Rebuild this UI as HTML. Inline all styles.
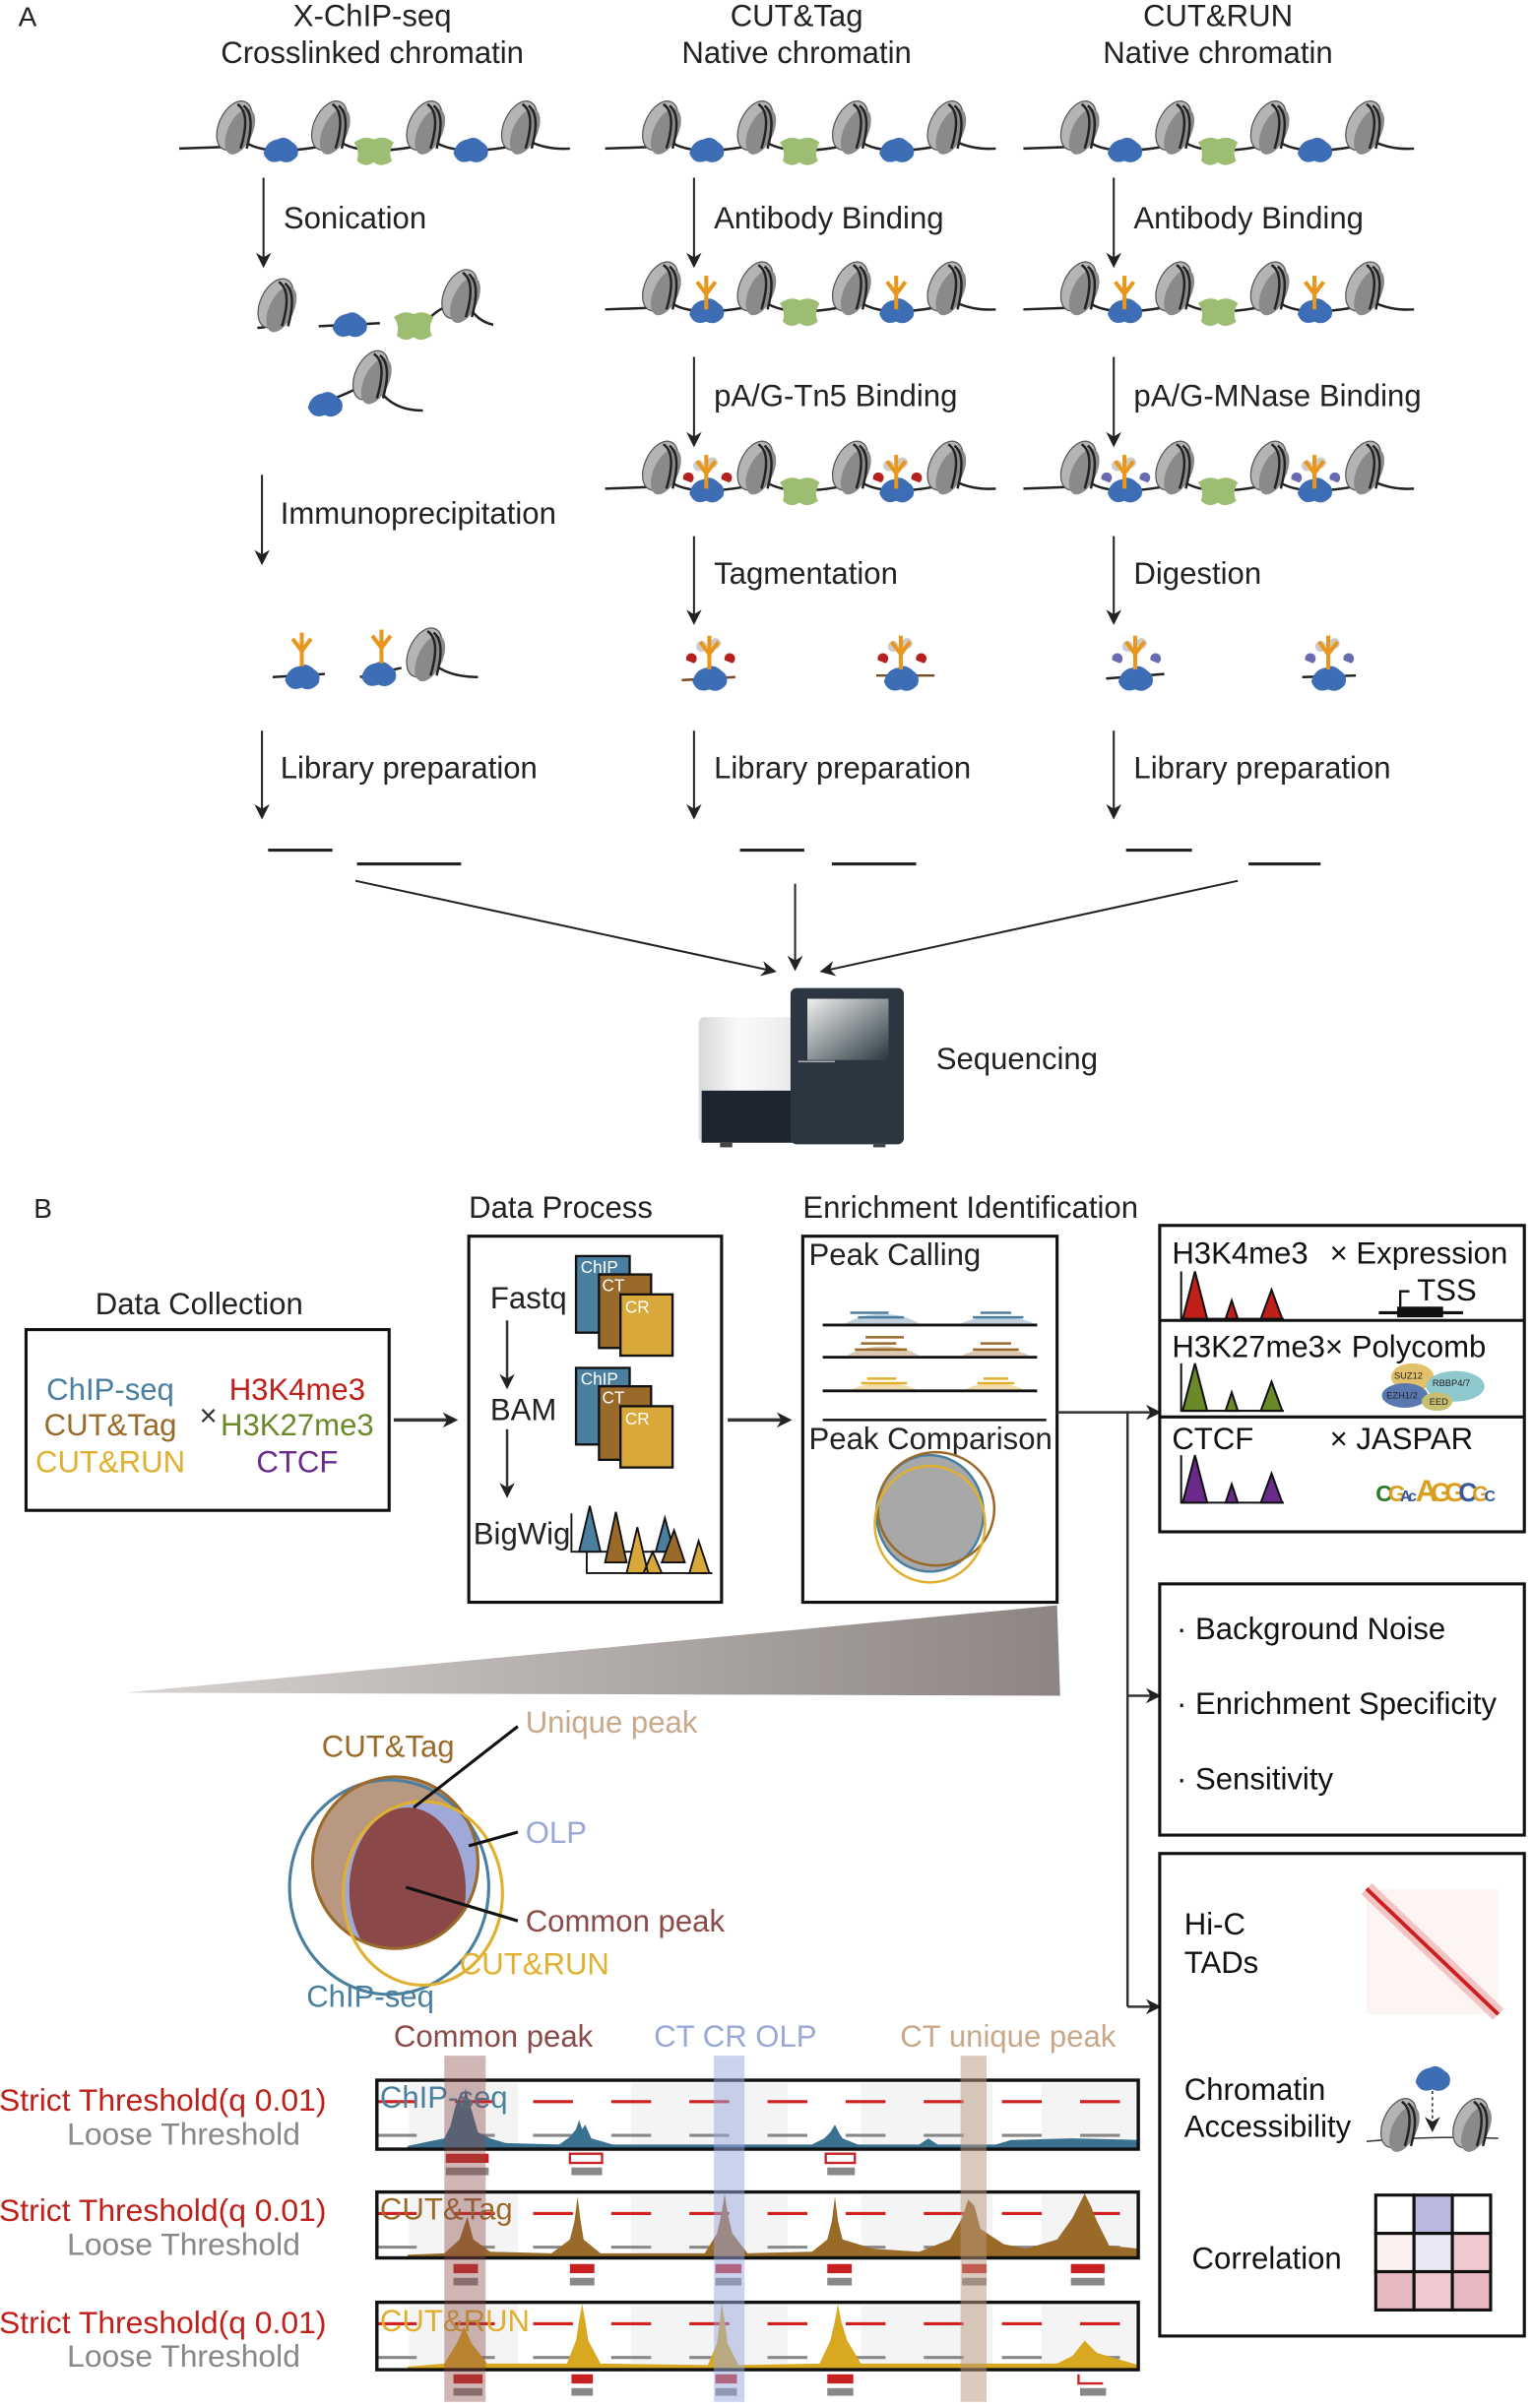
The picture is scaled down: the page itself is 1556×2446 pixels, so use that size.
<!DOCTYPE html>
<html><head><meta charset="utf-8"><style>
html,body{margin:0;padding:0;background:#fff;}
svg{display:block;font-family:"Liberation Sans",Arial,sans-serif;}
</style></head><body>
<svg width="1556" height="2446" viewBox="0 0 1000 1572" xmlns="http://www.w3.org/2000/svg">
<defs>
<marker id="ah" markerWidth="10" markerHeight="10" refX="8" refY="5" orient="auto" markerUnits="userSpaceOnUse"><path d="M0,0 L10,5 L0,10 L3,5 Z" fill="#222"/></marker>
<g id="nuc"><ellipse cx="0" cy="0" rx="10" ry="17" transform="rotate(25)" fill="#b4b4b4" stroke="#555" stroke-width="0.8"/><ellipse cx="5" cy="2" rx="8" ry="16" transform="rotate(25)" fill="#8a8a8a"/><path d="M2,-14 Q11,-8 4,15 M6,-13 Q14,-7 8,15" stroke="#222" stroke-width="1.6" fill="none"/></g>
<path id="blob" d="M-11,2 Q-9,-6 -2,-7 Q3,-10 8,-5 Q13,-2 11,4 Q6,10 0,7 Q-8,10 -11,2 Z" fill="#3d6db5"/>
<path id="gblob" d="M-13,-5 Q-6,-10 0,-7 Q7,-10 13,-5 Q9,2 12,7 Q5,12 0,8 Q-6,12 -11,7 Q-9,0 -13,-5 Z" fill="#9dbd72"/>
<g id="ab"><path d="M0,0 L0,-10 M0,-10 L-6,-18 M0,-10 L6,-18 M0,-10 L0,-22" stroke="#e8961c" stroke-width="2.6" fill="none"/></g>
<g id="tn5"><circle cx="-5" cy="-15" r="3.5" fill="#ccc"/><circle cx="4" cy="-17" r="3.5" fill="#ccc"/><path d="M-15,-6 a3.5,3.5 0 1,1 5,2" fill="#b52020"/><path d="M10,-6 a3.5,3.5 0 1,1 5,2" fill="#b52020"/></g>
<g id="mn"><circle cx="-5" cy="-15" r="3.5" fill="#ccc"/><circle cx="4" cy="-17" r="3.5" fill="#ccc"/><path d="M-15,-6 a3.5,3.5 0 1,1 5,2" fill="#6a6ab0"/><path d="M10,-6 a3.5,3.5 0 1,1 5,2" fill="#6a6ab0"/></g>
<g id="chrom"><path d="M0,97 L28,96 Q34,95 38,92 M42,92 Q55,102 90,96 L96,94 M104,92 Q118,102 152,96 L158,94 M166,92 Q180,102 214,96 L220,94 M228,92 Q240,98 255,97" stroke="#222" stroke-width="1.6" fill="none"/>
<use href="#nuc" x="36" y="82"/><use href="#nuc" x="98" y="82"/><use href="#nuc" x="160" y="82"/><use href="#nuc" x="222" y="82"/>
<use href="#blob" x="66" y="98"/><use href="#gblob" x="127" y="98"/><use href="#blob" x="190" y="98"/></g>
<linearGradient id="wedge" x1="0" x2="1" y1="0" y2="0"><stop offset="0" stop-color="#d8d4d2"/><stop offset="1" stop-color="#8c8582"/></linearGradient>
<clipPath id="ctc"><ellipse cx="258" cy="1216" rx="54" ry="56"/></clipPath>
</defs>

<!-- PANEL A -->
<g font-size="20" fill="#222">
<text x="12" y="17" font-size="18">A</text>
<text x="243" y="17" text-anchor="middle">X-ChIP-seq</text>
<text x="243" y="41" text-anchor="middle">Crosslinked chromatin</text>
<text x="520" y="17" text-anchor="middle">CUT&amp;Tag</text>
<text x="520" y="41" text-anchor="middle">Native chromatin</text>
<text x="795" y="17" text-anchor="middle">CUT&amp;RUN</text>
<text x="795" y="41" text-anchor="middle">Native chromatin</text>
</g>
<use href="#chrom" x="117" y="0"/>
<use href="#chrom" x="395" y="0"/>
<use href="#chrom" x="668" y="0"/>
<use href="#chrom" x="395" y="105"/><use href="#ab" x="461" y="202"/><use href="#ab" x="585" y="202"/>
<use href="#chrom" x="668" y="105"/><use href="#ab" x="734" y="202"/><use href="#ab" x="858" y="202"/>
<use href="#chrom" x="395" y="222"/><use href="#tn5" x="461" y="319"/><use href="#ab" x="461" y="319"/><use href="#tn5" x="585" y="319"/><use href="#ab" x="585" y="319"/>
<use href="#chrom" x="668" y="222"/><use href="#mn" x="734" y="319"/><use href="#ab" x="734" y="319"/><use href="#mn" x="858" y="319"/><use href="#ab" x="858" y="319"/>
<g stroke="#222" stroke-width="1.6" fill="none"><path d="M168,214 Q175,214 180,210"/><path d="M208,213 L248,211"/><path d="M280,208 Q290,198 298,200 M306,200 Q312,210 322,212"/><path d="M205,265 Q225,258 236,252 M246,252 Q255,268 276,268"/></g>
<use href="#nuc" x="180" y="198"/><use href="#blob" x="228" y="212"/><use href="#gblob" x="270" y="212"/><use href="#nuc" x="300" y="192"/><use href="#blob" x="212" y="264"/><use href="#nuc" x="242" y="245"/>
<g stroke="#222" stroke-width="1.6" fill="none"><path d="M178,442 L212,440"/><path d="M235,442 L262,436 M278,428 Q288,442 312,442"/></g>
<use href="#blob" x="197" y="442"/><use href="#ab" x="197" y="435"/><use href="#blob" x="247" y="440"/><use href="#ab" x="249" y="433"/><use href="#nuc" x="277" y="426"/>
<g stroke="#7a4a20" stroke-width="1.6"><path d="M445,444 L480,442 M572,441 L610,441"/><path d="M722,443 L760,440 M850,442 L885,441" stroke="#222"/></g>
<use href="#blob" x="463" y="443"/><use href="#tn5" x="463" y="437"/><use href="#ab" x="463" y="437"/>
<use href="#blob" x="588" y="443"/><use href="#tn5" x="588" y="437"/><use href="#ab" x="588" y="437"/>
<use href="#blob" x="741" y="443"/><use href="#mn" x="741" y="437"/><use href="#ab" x="741" y="437"/>
<use href="#blob" x="867" y="443"/><use href="#mn" x="867" y="437"/><use href="#ab" x="867" y="437"/>

<g stroke="#222" stroke-width="1.3" marker-end="url(#ah)">
<line x1="172" y1="116" x2="172" y2="173"/><line x1="453" y1="116" x2="453" y2="173"/><line x1="727" y1="116" x2="727" y2="173"/>
<line x1="453" y1="233" x2="453" y2="290"/><line x1="727" y1="233" x2="727" y2="290"/>
<line x1="171" y1="310" x2="171" y2="367"/>
<line x1="453" y1="350" x2="453" y2="406"/><line x1="727" y1="350" x2="727" y2="406"/>
<line x1="171" y1="477" x2="171" y2="533"/><line x1="453" y1="477" x2="453" y2="533"/><line x1="727" y1="477" x2="727" y2="533"/>
<line x1="232" y1="575" x2="505" y2="634"/><line x1="519" y1="577" x2="519" y2="632"/><line x1="808" y1="575" x2="537" y2="634"/>
</g>
<g font-size="20" fill="#222">
<text x="185" y="149">Sonication</text><text x="466" y="149">Antibody Binding</text><text x="740" y="149">Antibody Binding</text>
<text x="466" y="265">pA/G-Tn5 Binding</text><text x="740" y="265">pA/G-MNase Binding</text>
<text x="183" y="342">Immunoprecipitation</text>
<text x="466" y="381">Tagmentation</text><text x="740" y="381">Digestion</text>
<text x="183" y="508">Library preparation</text><text x="466" y="508">Library preparation</text><text x="740" y="508">Library preparation</text>
<text x="611" y="698">Sequencing</text>
</g>
<g stroke="#222" stroke-width="2"><line x1="175" y1="555" x2="217" y2="555"/><line x1="233" y1="564" x2="301" y2="564"/><line x1="483" y1="555" x2="525" y2="555"/><line x1="543" y1="564" x2="598" y2="564"/><line x1="735" y1="555" x2="778" y2="555"/><line x1="815" y1="564" x2="862" y2="564"/></g>
<linearGradient id="wg" x1="0" x2="1"><stop offset="0" stop-color="#d8d8d8"/><stop offset="0.4" stop-color="#fafafa"/><stop offset="1" stop-color="#e8e8e8"/></linearGradient>
<linearGradient id="scr" x1="0" x2="1" y1="0" y2="1"><stop offset="0" stop-color="#f0f0f0"/><stop offset="1" stop-color="#2a3a40"/></linearGradient>
<rect x="456" y="664" width="66" height="82" rx="4" fill="url(#wg)"/>
<rect x="458" y="712" width="62" height="34" fill="#1c2530"/>
<rect x="516" y="645" width="74" height="102" rx="4" fill="#2b3640"/>
<rect x="527" y="652" width="53" height="40" fill="url(#scr)"/>
<line x1="521" y1="693" x2="545" y2="693" stroke="#aaa"/>
<rect x="470" y="746" width="8" height="3" fill="#444"/><rect x="570" y="746" width="8" height="3" fill="#444"/>

<!-- PANEL B -->
<g font-size="20" fill="#222">
<text x="22" y="795" font-size="18">B</text>
<text x="306" y="795">Data Process</text>
<text x="524" y="795">Enrichment Identification</text>
<text x="130" y="858" text-anchor="middle">Data Collection</text>
</g>
<rect x="17" y="868" width="237" height="118" fill="none" stroke="#111" stroke-width="2"/>
<g font-size="20" text-anchor="middle">
<text x="72" y="914" fill="#4a7fa0">ChIP-seq</text><text x="72" y="937" fill="#9a6a2a">CUT&amp;Tag</text><text x="72" y="961" fill="#e0b030">CUT&amp;RUN</text>
<text x="136" y="931" fill="#333">×</text>
<text x="194" y="914" fill="#c0201a">H3K4me3</text><text x="194" y="937" fill="#6a8a2a">H3K27me3</text><text x="194" y="961" fill="#6a2a8a">CTCF</text>
</g>
<g stroke="#333" stroke-width="2.2" marker-end="url(#ah)"><line x1="257" y1="927" x2="297" y2="927"/><line x1="475" y1="927" x2="515" y2="927"/></g>
<rect x="306" y="807" width="165" height="239" fill="none" stroke="#111" stroke-width="2"/>
<g font-size="20" fill="#222"><text x="320" y="854">Fastq</text><text x="320" y="927">BAM</text><text x="309" y="1008">BigWig</text></g>
<g stroke="#333" stroke-width="1.6" marker-end="url(#ah)"><line x1="331" y1="862" x2="331" y2="905"/><line x1="331" y1="933" x2="331" y2="976"/></g>
<g stroke="#111" stroke-width="1.5">
<rect x="376" y="820" width="35" height="50" fill="#4a7fa0"/><rect x="391" y="832" width="34" height="48" fill="#9a6a2a"/><rect x="405" y="845" width="34" height="40" fill="#d8a83a"/>
<rect x="376" y="893" width="35" height="50" fill="#4a7fa0"/><rect x="391" y="905" width="34" height="48" fill="#9a6a2a"/><rect x="405" y="918" width="34" height="40" fill="#d8a83a"/>
</g>
<g font-size="11" fill="#fff"><text x="379" y="831">ChIP</text><text x="393" y="843">CT</text><text x="408" y="857">CR</text><text x="379" y="904">ChIP</text><text x="393" y="916">CT</text><text x="408" y="930">CR</text></g>
<g stroke="#111" stroke-width="1.2">
<path d="M373,988 L373,1013 L440,1013" fill="none"/><path d="M383,1003 L383,1027 L465,1027" fill="none"/>
<path d="M378,1013 L385,983 L392,1013 Z M428,1013 L434,991 L440,1013 Z" fill="#4a7fa0"/>
<path d="M395,1020 L402,987 L409,1020 Z M432,1020 L440,999 L447,1020 Z" fill="#9a6a2a"/>
<path d="M409,1027 L416,997 L423,1027 Z M450,1027 L456,1006 L463,1027 Z M420,1027 L426,1013 L432,1027Z" fill="#d8a83a"/>
</g>
<rect x="524" y="807" width="166" height="239" fill="none" stroke="#111" stroke-width="2"/>
<g font-size="20" fill="#222"><text x="528" y="826">Peak Calling</text><text x="528" y="946">Peak Comparison</text></g>
<line x1="537" y1="927" x2="683" y2="927" stroke="#111" stroke-width="1.6"/>
<g>
<path d="M552,864 A32,18 0 0 1 600,864 Z" fill="#c0d0dc"/><path d="M627,864 A30,11 0 0 1 675,864 Z" fill="#c0d0dc"/>
<path d="M553,885 A30,16 0 0 1 600,885 Z" fill="#dcc8b0"/><path d="M628,885 A28,12 0 0 1 672,885 Z" fill="#dcc8b0"/>
<path d="M556,907 A28,12 0 0 1 598,907 Z" fill="#f0dca8"/><path d="M630,907 A24,10 0 0 1 668,907 Z" fill="#f0dca8"/>
<g stroke="#4a7fa0" stroke-width="1.6"><line x1="560" y1="860" x2="590" y2="860"/><line x1="555" y1="857" x2="580" y2="857"/><line x1="635" y1="860" x2="668" y2="860"/><line x1="640" y1="857" x2="660" y2="857"/></g>
<g stroke="#9a6a2a" stroke-width="1.6"><line x1="558" y1="881" x2="592" y2="881"/><line x1="562" y1="877" x2="585" y2="877"/><line x1="565" y1="873" x2="590" y2="873"/><line x1="635" y1="881" x2="665" y2="881"/><line x1="640" y1="877" x2="660" y2="877"/></g>
<g stroke="#e0b030" stroke-width="1.6"><line x1="562" y1="903" x2="592" y2="903"/><line x1="566" y1="900" x2="585" y2="900"/><line x1="638" y1="903" x2="662" y2="903"/><line x1="642" y1="900" x2="658" y2="900"/></g>
<g stroke="#111" stroke-width="1.8"><line x1="537" y1="865" x2="677" y2="865"/><line x1="537" y1="886" x2="677" y2="886"/><line x1="537" y1="908" x2="677" y2="908"/></g>
</g>
<ellipse cx="607" cy="988" rx="35" ry="38" fill="#a8a8a8" stroke="#4a7fa0" stroke-width="1.6"/>
<ellipse cx="611" cy="985" rx="38" ry="37" fill="none" stroke="#9a6a2a" stroke-width="1.6"/>
<ellipse cx="607" cy="995" rx="36" ry="38" fill="none" stroke="#e0b030" stroke-width="1.6"/>
<path d="M82,1105 L690,1048 L692,1107 Z" fill="url(#wedge)"/>
<g stroke="#333" stroke-width="1.6" fill="none"><path d="M690,922 L736,922 L736,1310"/></g>
<g stroke="#333" stroke-width="1.6" marker-end="url(#ah)"><line x1="736" y1="922" x2="756" y2="922"/><line x1="736" y1="1107" x2="756" y2="1107"/><line x1="736" y1="1310" x2="756" y2="1310"/></g>
<rect x="757" y="800" width="238" height="200" fill="none" stroke="#111" stroke-width="2"/>
<line x1="757" y1="862" x2="995" y2="862" stroke="#111" stroke-width="2"/><line x1="757" y1="925" x2="995" y2="925" stroke="#111" stroke-width="2"/>
<g font-size="20" fill="#111">
<text x="765" y="825">H3K4me3</text><text x="868" y="825">× Expression</text><text x="925" y="849">TSS</text>
<text x="765" y="886">H3K27me3</text><text x="865" y="886">× Polycomb</text>
<text x="765" y="946">CTCF</text><text x="868" y="946">× JASPAR</text>
</g>
<g stroke="#111" stroke-width="1.3">
<path d="M771,830 L771,861 L838,861" fill="none"/><path d="M772,861 L780,830 L788,861Z M800,861 L804,849 L808,861Z M823,861 L830,842 L837,861Z" fill="#c0201a"/>
<path d="M771,890 L771,921 L838,921" fill="none"/><path d="M772,921 L780,890 L788,921Z M800,921 L804,909 L808,921Z M823,921 L830,902 L837,921Z" fill="#6a8a2a"/>
<path d="M771,950 L771,981 L838,981" fill="none"/><path d="M772,981 L780,950 L788,981Z M800,981 L804,969 L808,981Z M823,981 L830,962 L837,981Z" fill="#6a2a8a"/>
</g>
<g><line x1="900" y1="857" x2="955" y2="857" stroke="#111" stroke-width="2"/><rect x="912" y="853" width="30" height="7" fill="#111"/><path d="M914,853 L914,843 L920,843" stroke="#111" fill="none" stroke-width="1.5"/></g>
<ellipse cx="922" cy="899" rx="14" ry="9" fill="#e3c06a"/><ellipse cx="950" cy="905" rx="19" ry="10" fill="#8ec8cc"/><ellipse cx="917" cy="911" rx="15" ry="8" fill="#5a78b0"/><ellipse cx="938" cy="915" rx="10" ry="6" fill="#c8c070"/>
<g font-size="6" fill="#222"><text x="910" y="900">SUZ12</text><text x="935" y="905">RBBP4/7</text><text x="905" y="913">EZH1/2</text><text x="933" y="917">EED</text></g>
<g font-weight="bold" letter-spacing="-2"><text x="898" y="980" fill="#2a7a2a" font-size="15">C</text><text x="906" y="980" fill="#d8a020" font-size="15">G</text><text x="914" y="980" fill="#3a5aa0" font-size="10">Ac</text><text x="924" y="980" fill="#d8a020" font-size="20">A</text><text x="934" y="980" fill="#d8a020" font-size="17">G</text><text x="943" y="980" fill="#d8a020" font-size="17">G</text><text x="952" y="980" fill="#3a5aa0" font-size="17">C</text><text x="961" y="980" fill="#d8a020" font-size="14">G</text><text x="969" y="980" fill="#3a5aa0" font-size="10">C</text></g>
<rect x="757" y="1034" width="238" height="164" fill="none" stroke="#111" stroke-width="2"/>
<g font-size="20" fill="#111"><text x="768" y="1070">· Background Noise</text><text x="768" y="1119">· Enrichment Specificity</text><text x="768" y="1168">· Sensitivity</text></g>
<rect x="757" y="1210" width="238" height="315" fill="none" stroke="#111" stroke-width="2"/>
<g font-size="20" fill="#111"><text x="773" y="1263">Hi-C</text><text x="773" y="1288">TADs</text><text x="773" y="1371">Chromatin</text><text x="773" y="1395">Accessibility</text><text x="778" y="1481">Correlation</text></g>
<rect x="892" y="1233" width="86" height="82" fill="#fdf4f4"/>
<path d="M892,1233 L978,1315" stroke="#f4c4c4" stroke-width="10"/><path d="M892,1233 L978,1315" stroke="#cc2020" stroke-width="2.5"/>
<use href="#blob" x="935" y="1357"/>
<line x1="935" y1="1365" x2="935" y2="1390" stroke="#333" stroke-dasharray="2,2" marker-end="url(#ah)"/>
<path d="M892,1398 Q935,1394 978,1396" stroke="#333" fill="none"/>
<use href="#nuc" x="913" y="1386"/><use href="#nuc" x="960" y="1386"/>
<g stroke="#111" stroke-width="2">
<rect x="898" y="1433" width="25" height="25" fill="#fff"/><rect x="923" y="1433" width="25" height="25" fill="#b8b8e0"/><rect x="948" y="1433" width="25" height="25" fill="#fff"/>
<rect x="898" y="1458" width="25" height="25" fill="#faf0f0"/><rect x="923" y="1458" width="25" height="25" fill="#e8e8f5"/><rect x="948" y="1458" width="25" height="25" fill="#f0c8d0"/>
<rect x="898" y="1483" width="25" height="25" fill="#e8b8c0"/><rect x="923" y="1483" width="25" height="25" fill="#f0c8d0"/><rect x="948" y="1483" width="25" height="25" fill="#e8b8c0"/>
</g>
<ellipse cx="258" cy="1216" rx="54" ry="56" fill="#b89880"/>
<ellipse cx="276" cy="1236" rx="52" ry="60" fill="#a0a8d8" clip-path="url(#ctc)"/>
<ellipse cx="266" cy="1234" rx="38" ry="54" fill="#8a4848" clip-path="url(#ctc)"/>
<ellipse cx="254" cy="1232" rx="65" ry="70" fill="none" stroke="#4a7fa0" stroke-width="2"/>
<ellipse cx="258" cy="1216" rx="54" ry="56" fill="none" stroke="#9a6a2a" stroke-width="2"/>
<ellipse cx="276" cy="1236" rx="52" ry="60" fill="none" stroke="#e0b030" stroke-width="2"/>
<g stroke="#111" stroke-width="2"><line x1="270" y1="1180" x2="338" y2="1127"/><line x1="306" y1="1205" x2="338" y2="1196"/><line x1="265" y1="1232" x2="338" y2="1254"/></g>
<g font-size="20">
<text x="210" y="1147" fill="#9a6a2a">CUT&amp;Tag</text><text x="343" y="1131" fill="#c8a888">Unique peak</text><text x="343" y="1203" fill="#9aa8d8">OLP</text><text x="343" y="1261" fill="#8a4a48">Common peak</text><text x="300" y="1289" fill="#e0b030">CUT&amp;RUN</text><text x="200" y="1310" fill="#4a7fa0">ChIP-seq</text>
<text x="322" y="1336" fill="#8a4a48" text-anchor="middle">Common peak</text><text x="480" y="1336" fill="#9aa8d8" text-anchor="middle">CT CR OLP</text><text x="658" y="1336" fill="#c8a888" text-anchor="middle">CT unique peak</text>
</g>
<g font-size="20.5" text-anchor="end">
<text x="213" y="1378" fill="#c0201a">Strict Threshold(q 0.01)</text><text x="196" y="1400" fill="#888">Loose Threshold</text>
<text x="213" y="1450" fill="#c0201a">Strict Threshold(q 0.01)</text><text x="196" y="1472" fill="#888">Loose Threshold</text>
<text x="213" y="1523" fill="#c0201a">Strict Threshold(q 0.01)</text><text x="196" y="1545" fill="#888">Loose Threshold</text>
</g>
<g fill="#f4f4f4">
<rect x="267" y="1360" width="71" height="42"/><rect x="412" y="1360" width="102" height="42"/><rect x="562" y="1360" width="86" height="42"/><rect x="680" y="1360" width="62" height="42"/>
<rect x="267" y="1433" width="71" height="40"/><rect x="412" y="1433" width="102" height="40"/><rect x="562" y="1433" width="86" height="40"/><rect x="680" y="1433" width="62" height="40"/>
<rect x="267" y="1505" width="71" height="41"/><rect x="412" y="1505" width="102" height="41"/><rect x="562" y="1505" width="86" height="41"/><rect x="680" y="1505" width="62" height="41"/>
</g>
<g stroke-width="2" stroke-dasharray="26,25">
<line x1="246" y1="1372" x2="743" y2="1372" stroke="#d02020"/><line x1="246" y1="1394" x2="743" y2="1394" stroke="#888"/>
<line x1="246" y1="1445" x2="743" y2="1445" stroke="#d02020"/><line x1="246" y1="1467" x2="743" y2="1467" stroke="#888"/>
<line x1="246" y1="1517" x2="743" y2="1517" stroke="#d02020"/><line x1="246" y1="1539" x2="743" y2="1539" stroke="#888"/>
</g>
<path fill="#3a7090" d="M266,1401 L280,1398 L290,1396 L294,1388 L297,1376 L300,1368 L302,1374 L304,1363 L306,1372 L308,1378 L312,1392 L320,1396 L330,1399 L365,1400 L372,1395 L376,1390 L378,1384 L380,1390 L382,1387 L386,1396 L400,1400 L530,1400 L538,1396 L542,1392 L545,1387 L548,1393 L550,1396 L560,1400 L600,1400 L606,1396 L612,1400 L650,1400 L660,1397 L700,1396 L743,1397 L743,1402 L266,1402 Z"/>
<path fill="#9a6a28" d="M266,1472 L290,1471 L300,1462 L305,1447 L309,1462 L320,1470 L360,1471 L372,1462 L375,1450 L377,1434 L379,1450 L381,1462 L392,1471 L460,1471 L468,1458 L471,1445 L473,1432 L475,1445 L478,1458 L488,1471 L530,1470 L540,1462 L543,1450 L545,1434 L547,1450 L550,1462 L570,1468 L600,1470 L620,1462 L628,1448 L632,1436 L636,1440 L640,1455 L655,1465 L670,1468 L690,1462 L700,1448 L706,1436 L708,1432 L712,1440 L716,1450 L724,1466 L743,1468 L743,1474 L266,1474 Z"/>
<path fill="#d8a820" d="M266,1545 L290,1543 L298,1530 L303,1519 L308,1530 L318,1543 L370,1543 L376,1528 L378,1515 L380,1504 L382,1515 L384,1528 L392,1543 L462,1544 L468,1530 L470,1515 L471,1503 L473,1515 L475,1530 L482,1544 L535,1543 L542,1528 L545,1515 L547,1504 L549,1515 L553,1528 L562,1543 L690,1543 L700,1538 L708,1528 L716,1536 L743,1544 L743,1547 L266,1547 Z"/>
<g fill="none" stroke="#111" stroke-width="2.2">
<rect x="246" y="1358" width="497" height="45"/><rect x="246" y="1431" width="497" height="43"/><rect x="246" y="1503" width="497" height="44"/>
</g>
<g font-size="20"><text x="248" y="1376" fill="#4a7fa0">ChIP-seq</text><text x="248" y="1449" fill="#9a6a2a">CUT&amp;Tag</text><text x="248" y="1522" fill="#e0b030">CUT&amp;RUN</text></g>
<g fill="#c82020">
<rect x="291" y="1406" width="28" height="6"/><rect x="296" y="1478" width="16" height="6"/><rect x="372" y="1478" width="16" height="6"/><rect x="467" y="1478" width="17" height="6"/><rect x="540" y="1478" width="16" height="6"/><rect x="628" y="1478" width="16" height="6"/><rect x="699" y="1478" width="22" height="6"/>
<rect x="296" y="1550" width="19" height="6"/><rect x="373" y="1550" width="14" height="6"/><rect x="467" y="1550" width="14" height="6"/><rect x="540" y="1550" width="17" height="6"/>
</g>
<g fill="none" stroke="#c82020" stroke-width="1.5"><rect x="372" y="1406" width="21" height="6"/><rect x="539" y="1406" width="19" height="6"/><path d="M704,1550 L704,1556 L720,1556"/></g>
<g fill="#888">
<rect x="291" y="1415" width="28" height="5"/><rect x="373" y="1415" width="20" height="5"/><rect x="540" y="1415" width="18" height="5"/>
<rect x="296" y="1487" width="16" height="5"/><rect x="372" y="1487" width="16" height="5"/><rect x="467" y="1487" width="17" height="5"/><rect x="540" y="1487" width="16" height="5"/><rect x="628" y="1487" width="16" height="5"/><rect x="699" y="1487" width="22" height="5"/>
<rect x="296" y="1559" width="19" height="5"/><rect x="373" y="1559" width="14" height="5"/><rect x="467" y="1559" width="14" height="5"/><rect x="540" y="1559" width="17" height="5"/><rect x="705" y="1559" width="17" height="5"/>
</g>
<rect x="290" y="1342" width="27" height="226" fill="#8a4a48" opacity="0.4"/>
<rect x="466" y="1342" width="20" height="226" fill="#9aa8e0" opacity="0.5"/>
<rect x="627" y="1342" width="17" height="226" fill="#b89880" opacity="0.5"/>
</svg>
</body></html>
